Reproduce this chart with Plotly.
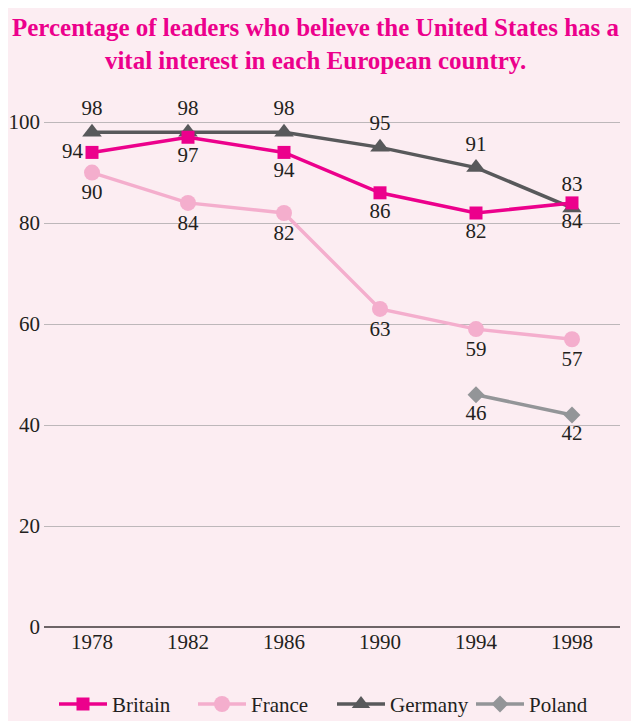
import plotly.graph_objects as go

years = ["1978", "1982", "1986", "1990", "1994", "1998"]
britain = [94, 97, 94, 86, 82, 84]
france = [90, 84, 82, 63, 59, 57]
germany = [98, 98, 98, 95, 91, 83]
poland_years = ["1994", "1998"]
poland = [46, 42]
y_ticks = [0, 20, 40, 60, 80, 100]

FONT = "Liberation Serif, serif"
TXT = "#231f20"
BG = "#fcedf2"
LBL = dict(family=FONT, size=21, color=TXT)

fig = go.Figure()

fig.add_trace(go.Scatter(
    x=years, y=germany, name="Germany", mode="lines+markers+text",
    line=dict(color="#58595b", width=3.5),
    marker=dict(symbol="triangle-up", size=17, color="#58595b"),
    text=[str(v) for v in germany], textposition="top center",
    textfont=LBL, showlegend=False, cliponaxis=False,
))
fig.add_trace(go.Scatter(
    x=years, y=france, name="France", mode="lines+markers+text",
    line=dict(color="#f4aecd", width=3.5),
    marker=dict(symbol="circle", size=16, color="#f4aecd"),
    text=[str(v) for v in france], textposition="bottom center",
    textfont=LBL, showlegend=False, cliponaxis=False,
))
fig.add_trace(go.Scatter(
    x=years, y=britain, name="Britain", mode="lines+markers+text",
    line=dict(color="#ec008c", width=3.5),
    marker=dict(symbol="square", size=13, color="#ec008c"),
    text=[str(v) for v in britain],
    textposition=["middle left"] + ["bottom center"] * 5,
    textfont=LBL, showlegend=False, cliponaxis=False,
))
fig.add_trace(go.Scatter(
    x=poland_years, y=poland, name="Poland", mode="lines+markers+text",
    line=dict(color="#939598", width=3.5),
    marker=dict(symbol="diamond", size=13, color="#939598"),
    text=[str(v) for v in poland], textposition="bottom center",
    textfont=LBL, showlegend=False, cliponaxis=False,
))

# legend-only traces in the desired order
for nm, col, sym, sz in [("Britain", "#ec008c", "square", 13),
                         ("France", "#f4aecd", "circle", 16),
                         ("Germany", "#58595b", "triangle-up", 17),
                         ("Poland", "#939598", "diamond", 13)]:
    fig.add_trace(go.Scatter(
        x=[None], y=[None], name=nm, mode="lines+markers",
        line=dict(color=col, width=3.5),
        marker=dict(symbol=sym, size=sz, color=col),
    ))

fig.add_annotation(
    text="Percentage of leaders who believe the United States has a<br>vital interest in each European country.",
    xref="paper", yref="paper", x=0.472, y=1.19, xanchor="center", yanchor="top",
    showarrow=False, align="center",
    font=dict(family=FONT, size=25, color="#ec008c", weight="bold"),
)

fig.update_layout(
    width=631, height=713,
    paper_bgcolor=BG, plot_bgcolor=BG,
    margin=dict(l=36, r=19, t=102, b=94, autoexpand=False),
    font=dict(family=FONT, color=TXT, size=20),
    legend=dict(
        orientation="h", x=0.5, xanchor="center",
        y=-0.11, yanchor="top",
        font=dict(family=FONT, size=21, color=TXT),
        bgcolor="rgba(0,0,0,0)", traceorder="normal",
        itemwidth=48, entrywidth=76, entrywidthmode="pixels",
    ),
    showlegend=True,
)
fig.update_xaxes(
    type="category", range=[-0.5, 5.5], showgrid=False, zeroline=False,
    showline=False, ticks="", automargin=False,
    tickfont=dict(family=FONT, size=21, color=TXT),
)
fig.update_yaxes(
    range=[0, 102.4], tickvals=y_ticks, showgrid=True, gridcolor="#bdb7ba",
    gridwidth=1.2, zeroline=True, zerolinecolor="#6d6467", zerolinewidth=2,
    ticks="", automargin=False,
    tickfont=dict(family=FONT, size=21, color=TXT), ticklabelstandoff=3,
)

fig.write_html("out.html")
